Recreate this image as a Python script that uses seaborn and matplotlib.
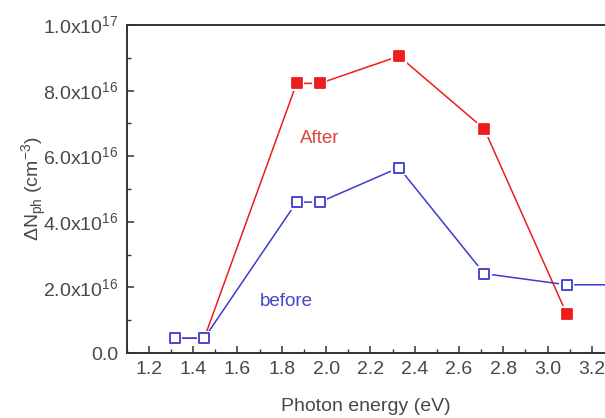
import numpy as np
import pandas as pd
import matplotlib
matplotlib.use('Agg')
from matplotlib import pyplot as plt
from matplotlib.ticker import MultipleLocator, FixedLocator
import seaborn as sns

# Data (photon energy in eV, density in cm^-3)
energy = [1.316, 1.45, 1.867, 1.972, 2.329, 2.714, 3.086, 3.40]
after_vals = [0.45e16, 0.45e16, 8.22e16, 8.22e16, 9.05e16, 6.83e16, 1.19e16, np.nan]
before_vals = [0.45e16, 0.45e16, 4.60e16, 4.60e16, 5.65e16, 2.42e16, 2.08e16, 2.08e16]

y_ticks = [0, 2e16, 4e16, 6e16, 8e16, 1e17]
y_tick_labels = ['0.0',
                 '2.0x10$^{\\mathregular{16}}$',
                 '4.0x10$^{\\mathregular{16}}$',
                 '6.0x10$^{\\mathregular{16}}$',
                 '8.0x10$^{\\mathregular{16}}$',
                 '1.0x10$^{\\mathregular{17}}$']

red = '#ee1c1c'
blue = '#3b3bd0'
txt = '#484848'

sns.set_style('white')
plt.rcParams['font.family'] = ['Liberation Sans', 'DejaVu Sans']
plt.rcParams['mathtext.fontset'] = 'custom'
plt.rcParams['mathtext.rm'] = 'Liberation Sans'

df = pd.DataFrame({'energy': energy, 'after': after_vals, 'before': before_vals})

fig = plt.figure(figsize=(6.05, 4.18), dpi=100)
ax = fig.add_axes([0.2094, 0.1555, 0.7906, 0.7847])

# each series: line, white halo (gap round markers), markers
for col, color, face, z in [('after', red, red, 2), ('before', blue, 'white', 3)]:
    d = df.dropna(subset=[col])
    sns.lineplot(data=d, x='energy', y=col, sort=False, color=color,
                 linewidth=1.1, ax=ax, zorder=z)
    sns.scatterplot(data=d, x='energy', y=col, marker='s', s=120, color='white',
                    edgecolor='none', linewidth=0, ax=ax, zorder=z + 0.1)
    sns.scatterplot(data=d, x='energy', y=col, marker='s', s=44, color=face,
                    edgecolor=color, linewidth=1.3, ax=ax, zorder=z + 0.2)

ax.text(1.972, 6.55e16, 'After', color='#e04040', fontsize=13.5, ha='center', va='center')
ax.text(1.822, 1.56e16, 'before', color='#4545c8', fontsize=13.5, ha='center', va='center')

ax.set_xlim(1.1, 3.259)
ax.set_ylim(0, 1e17)
ax.xaxis.set_major_locator(MultipleLocator(0.2))
ax.xaxis.set_minor_locator(MultipleLocator(0.1))
ax.yaxis.set_major_locator(FixedLocator(y_ticks))
ax.yaxis.set_minor_locator(MultipleLocator(1e16))
ax.set_yticklabels(y_tick_labels)
ax.set_xticklabels([f'{v:.1f}' for v in ax.get_xticks()])

ax.tick_params(which='both', direction='in', colors='#333333', labelcolor=txt,
               labelsize=14, top=False, right=False, left=True, bottom=True)
ax.tick_params(which='major', length=5, width=1.1, pad=6)
ax.tick_params(which='minor', length=3, width=1.0)

for side in ['left', 'bottom', 'top']:
    ax.spines[side].set_color('#333333')
    ax.spines[side].set_linewidth(1.4)
    ax.spines[side].set_zorder(5)
ax.spines['right'].set_visible(False)

ax.set_xlabel('Photon energy (eV)', fontsize=14, color=txt, labelpad=14)
ax.set_ylabel('ΔN$_{\\mathregular{ph}}$ (cm$^{\\mathregular{-3}}$)', fontsize=14,
              color=txt, labelpad=-4)

fig.savefig('out.png', dpi=100)
